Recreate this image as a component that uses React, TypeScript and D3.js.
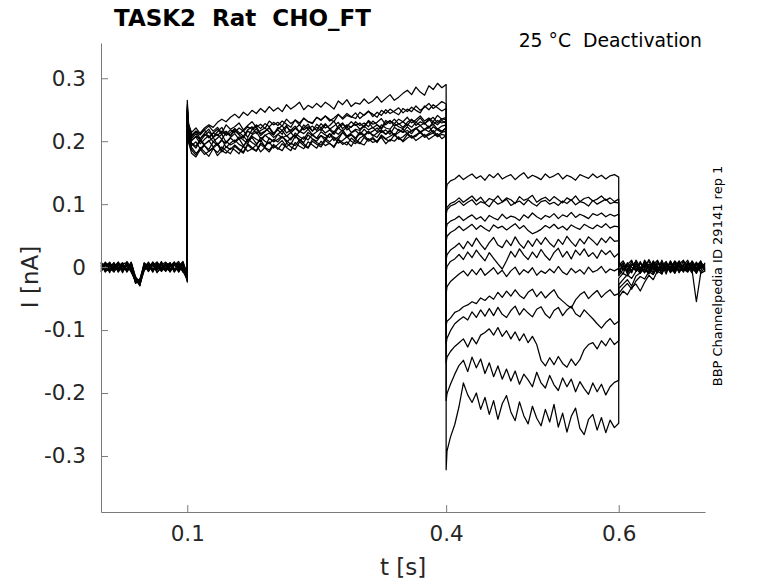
import React, { useEffect, useRef } from 'react';

import * as d3 from 'd3';

const xTicks = [0.1, 0.4, 0.6];
const yTicks = [-0.3, -0.2, -0.1, 0, 0.1, 0.2, 0.3];

// sample times (s) of the four protocol segments
const baseT = d3.range(0, 0.1001, 0.005);
const step1T = [0.1, 0.1015, ...d3.range(0.105, 0.4001, 0.005)];
const step2T = [0.4, 0.401, ...d3.range(0.405, 0.6001, 0.005)];
const tailT = d3.range(0.6, 0.7001, 0.005);

// current per sweep in pA
const baseline = [
  [4, -7, 6, -2, 8, -5, 3, -8, -22, -26, 5, -6, 7, -3, 9, -4, 2, 8, -6, 5, -14],
  [-6, 5, -9, 7, -3, 6, -7, 2, -18, -28, 4, -4, 8, -8, -2, 6, -6, 3, 9, -3, -19],
  [7, -3, 2, -8, 5, -6, 9, -1, -24, -20, -5, 3, -7, 8, -1, -6, 7, -4, 4, -8, -9],
  [-1, 8, -5, 3, -7, 6, -3, 7, -17, -30, 6, -2, 5, -9, 3, 8, -5, 6, -3, 7, -22],
  [-5, 2, 7, -6, 4, -9, 5, -3, -25, -23, -2, 8, -4, 3, -7, 2, 7, -6, 1, 9, -12],
  [6, -8, 1, 5, -4, 3, -6, 8, -15, -27, 3, -7, 6, -1, 7, -5, 0, 8, -7, 2, -17],
  [-3, 6, -6, 0, 8, -5, 2, -5, -21, -22, 7, 1, -6, 5, -3, 4, -8, 3, 6, -5, -7],
  [8, -2, 4, -5, -1, 5, 7, -7, -19, -29, -3, 5, -2, -5, 6, -3, 5, -8, 2, 6, -24],
  [-7, 3, 0, 7, -8, 2, -4, 5, -26, -19, 4, -7, 3, 8, -6, 7, 3, -2, -5, 4, -10],
  [2, -5, 8, -3, 5, -7, 6, -4, -16, -25, 0, 4, -8, 5, 3, -2, -6, 6, 4, -7, -20],
  [5, 4, -3, -7, 2, 7, -8, 3, -20, -28, -6, 6, 2, -4, 7, -7, 5, -3, -1, 8, -13],
  [-8, 7, 3, 4, -6, -1, 2, -6, -23, -24, 2, -4, 8, 1, -5, 3, -3, 5, -8, 3, -16],
  [3, -6, -4, 2, 6, -3, -5, 7, -18, -21, -1, 7, -5, 6, 0, -4, 6, -7, 5, -5, -8]
];

const step1 = [
  [265, 224,
    208, 216, 204, 213, 219, 207, 215, 222, 209, 214, 220, 211, 217, 206, 218, 223, 212, 216, 221, 210,
    219, 225, 213, 218, 224, 215, 221, 227, 216, 222, 217, 226, 220, 214, 224, 229, 218, 223, 227, 219,
    225, 231, 221, 226, 219, 229, 233, 224, 228, 222, 230, 235, 225, 231, 227, 236, 226, 233, 229, 232],
  [248, 212,
    196, 189, 201, 193, 187, 199, 194, 203, 190, 197, 202, 195, 191, 204, 198, 193, 206, 200, 196, 203,
    199, 207, 201, 195, 208, 203, 198, 210, 204, 200, 209, 205, 212, 201, 207, 214, 206, 210, 203, 213,
    208, 215, 210, 206, 216, 211, 218, 209, 214, 219, 212, 217, 221, 213, 219, 215, 223, 218, 214, 222],
  [255, 220,
    204, 212, 200, 209, 215, 206, 211, 203, 214, 208, 217, 210, 205, 216, 212, 220, 209, 215, 222, 213,
    218, 211, 223, 216, 221, 214, 226, 219, 224, 217, 228, 221, 225, 232, 220, 227, 223, 231, 225, 229,
    222, 233, 227, 230, 236, 226, 232, 228, 235, 231, 238, 229, 234, 240, 232, 237, 231, 241, 235, 238],
  [242, 205,
    190, 181, 186, 193, 184, 189, 195, 183, 191, 187, 194, 188, 183, 196, 190, 185, 197, 192, 199, 189,
    195, 201, 191, 197, 193, 202, 196, 190, 203, 198, 194, 204, 199, 206, 197, 201, 207, 200, 196, 205,
    209, 202, 206, 199, 210, 204, 208, 212, 203, 207, 213, 206, 210, 215, 208, 212, 217, 209, 214, 216],
  [250, 226,
    214, 221, 212, 218, 224, 216, 222, 213, 226, 219, 223, 229, 218, 225, 231, 222, 227, 220, 232, 226,
    230, 224, 235, 228, 233, 226, 237, 231, 229, 238, 234, 240, 232, 237, 243, 235, 241, 238, 245, 236,
    242, 248, 239, 246, 241, 250, 244, 248, 253, 245, 251, 247, 256, 249, 254, 260, 252, 257, 263, 259],
  [246, 215,
    201, 207, 196, 203, 209, 199, 205, 211, 198, 206, 212, 203, 208, 200, 210, 215, 204, 209, 213, 206,
    211, 217, 208, 214, 205, 216, 212, 219, 210, 215, 220, 213, 218, 211, 221, 216, 223, 214, 219, 217,
    224, 218, 222, 215, 226, 221, 219, 228, 223, 220, 227, 222, 230, 225, 229, 221, 231, 226, 233, 228],
  [238, 200,
    186, 178, 190, 183, 176, 188, 182, 191, 185, 180, 192, 186, 181, 194, 188, 184, 195, 189, 183, 193,
    187, 196, 190, 185, 198, 192, 188, 199, 194, 189, 200, 193, 197, 190, 202, 195, 199, 192, 203, 197,
    194, 204, 198, 201, 206, 196, 203, 200, 207, 199, 205, 209, 201, 206, 211, 203, 208, 212, 204, 209],
  [252, 222,
    207, 215, 210, 218, 205, 213, 219, 211, 216, 209, 220, 214, 208, 218, 223, 212, 217, 221, 215, 210,
    222, 217, 225, 213, 220, 226, 218, 223, 216, 227, 221, 228, 219, 224, 230, 220, 226, 222, 231, 225,
    229, 223, 232, 226, 221, 233, 228, 235, 227, 231, 225, 234, 230, 237, 228, 233, 238, 229, 236, 234],
  [244, 210,
    197, 192, 203, 195, 200, 206, 194, 201, 197, 205, 199, 207, 202, 196, 208, 203, 199, 210, 204, 200,
    211, 205, 209, 202, 213, 207, 203, 214, 209, 205, 215, 210, 206, 216, 211, 218, 208, 213, 217, 210,
    219, 212, 216, 221, 214, 218, 211, 222, 217, 214, 223, 216, 220, 225, 218, 222, 227, 219, 224, 226],
  [258, 228,
    210, 216, 213, 221, 226, 222, 230, 235, 231, 238, 243, 237, 246, 241, 249, 244, 252, 246, 255, 248,
    253, 247, 258, 251, 256, 262, 250, 257, 253, 260, 254, 262, 257, 251, 264, 258, 266, 255, 261, 259,
    267, 260, 264, 271, 262, 268, 274, 265, 270, 276, 281, 274, 286, 278, 273, 288, 282, 292, 285, 290],
  [240, 207,
    193, 199, 188, 195, 201, 191, 197, 186, 200, 194, 198, 204, 193, 200, 206, 196, 202, 191, 205, 199,
    203, 208, 198, 205, 210, 200, 207, 202, 211, 204, 209, 201, 212, 206, 203, 214, 208, 211, 205, 215,
    210, 216, 208, 213, 218, 211, 216, 209, 219, 214, 217, 212, 221, 215, 219, 224, 213, 220, 216, 221],
  [250, 218,
    201, 208, 204, 211, 206, 213, 209, 216, 211, 218, 214, 221, 216, 223, 219, 226, 220, 228, 223, 230,
    225, 232, 227, 222, 234, 229, 236, 231, 228, 238, 233, 240, 235, 231, 242, 237, 244, 239, 236, 246,
    241, 247, 243, 238, 249, 244, 251, 246, 242, 252, 247, 254, 249, 245, 256, 250, 258, 253, 248, 252],
  [236, 198,
    181, 175, 187, 179, 184, 190, 177, 185, 181, 189, 186, 180, 192, 184, 188, 194, 183, 190, 186, 195,
    189, 185, 197, 191, 187, 199, 193, 189, 200, 195, 191, 201, 196, 192, 203, 198, 194, 205, 199, 196,
    206, 200, 204, 198, 208, 203, 200, 210, 204, 201, 211, 205, 208, 214, 206, 210, 213, 207, 211, 209]
];

const step2 = [
  [118, 131, 137, 140, 146, 139, 144, 148, 141, 145, 138, 147, 142, 149, 140, 144, 147, 139, 145, 150, 141, 146, 143, 139, 148, 142, 145, 149, 140, 146, 143, 138, 147, 144, 141, 148, 142, 146, 140, 145, 147, 143],
  [86, 95, 101, 104, 110, 103, 108, 113, 105, 111, 102, 109, 106, 113, 104, 110, 107, 101, 112, 106, 109, 114, 103, 108, 111, 105, 112, 107, 102, 110, 106, 113, 104, 109, 111, 105, 108, 113, 106, 110, 104, 108],
  [83, 91, 97, 100, 105, 98, 103, 107, 99, 104, 101, 96, 106, 100, 103, 108, 98, 102, 105, 99, 107, 101, 97, 104, 106, 100, 103, 98, 105, 101, 107, 99, 104, 102, 97, 106, 100, 104, 108, 101, 103, 102],
  [60, 68, 73, 76, 81, 74, 79, 83, 76, 80, 73, 82, 78, 75, 84, 77, 81, 79, 74, 83, 78, 86, 80, 76, 82, 79, 85, 77, 83, 80, 87, 79, 84, 81, 77, 85, 82, 86, 80, 84, 81, 84],
  [40, 49, 55, 59, 65, 58, 63, 68, 60, 66, 61, 57, 67, 62, 65, 59, 64, 69, 61, 66, 58, 53, 56, 60, 66, 62, 68, 61, 65, 59, 67, 63, 60, 68, 64, 61, 67, 63, 69, 62, 65, 64],
  [12, 20, 27, 32, 38, 29, 41, 33, 46, 36, 28, 39, 47, 35, 31, 43, 34, 48, 37, 30, 42, 33, 45, 36, 47, 38, 32, 44, 36, 49, 40, 33, 45, 37, 48, 42, 35, 46, 39, 48, 41, 42],
  [-8, 1, 9, 13, 20, 12, 24, 15, 27, 18, 10, 23, 14, 5, -3, 10, 25, 16, 29, 19, 12, 24, 15, 28, 18, 11, 23, 30, 16, 25, 13, 27, 19, 29, 17, 23, 14, 27, 20, 26, 16, 22],
  [-42, -31, -23, -17, -11, -6, -14, -4, -12, -2, -13, -7, -1, -11, -5, -15, -6, 0, -12, -4, -9, -1, -13, -6, -10, -3, -9, 1, -8, -12, -2, -9, -4, -11, 0, -8, -5, 1, -9, -3, -6, -2],
  [-92, -86, -81, -72, -69, -63, -60, -55, -58, -49, -53, -46, -51, -40, -48, -38, -46, -36, -45, -50, -40, -35, -47, -39, -49, -42, -36, -48, -54, -60, -65, -52, -44, -39, -50, -43, -37, -48, -41, -36, -45, -42],
  [-122, -113, -101, -90, -84, -79, -84, -71, -80, -68, -78, -66, -77, -64, -75, -80, -69, -62, -76, -66, -73, -79, -67, -63, -75, -81, -69, -64, -77, -68, -62, -74, -79, -68, -75, -82, -90, -97, -88, -82, -91, -86],
  [-152, -143, -134, -126, -120, -114, -127, -112, -122, -108, -104, -98, -108, -96, -110, -101, -114, -103, -117, -106, -120, -110, -123, -148, -157, -144, -155, -142, -153, -159, -146, -156, -147, -131, -123, -120, -130, -117, -125, -113, -123, -117],
  [-212, -201, -186, -170, -156, -148, -166, -143, -160, -146, -169, -152, -174, -157, -178, -162, -181, -165, -186, -170, -179, -190, -167, -184, -192, -172, -187, -196, -176, -190, -178, -198, -182, -193, -202, -184, -198, -186, -203, -190, -183, -180],
  [-322, -292, -270, -250, -221, -184, -203, -215, -200, -226, -207, -234, -212, -242, -217, -204, -230, -244, -214, -236, -249, -221, -240, -252, -226, -246, -218, -254, -232, -262, -237, -224, -256, -266, -242, -234, -259, -239, -263, -243, -255, -248]
];

const tail = [
  [9, -5, 4, 11, -7, 6, -2, 12, 0, -9, 7, 3, -6, 10, 2, -4, 8, -7, 5, -1, 3],
  [-7, 5, -11, 2, 9, -4, 7, -6, 10, 0, -9, 6, -2, 8, -8, 3, 11, -4, 2, 9, -5],
  [3, 10, -2, -9, 6, -6, 11, 1, -8, 9, -3, 0, 7, -10, 5, 11, -2, 4, -7, 6, 2],
  [-4, -11, 7, 0, -6, 9, -9, 3, 6, -7, 11, -5, 2, -4, 9, -2, -6, 7, -3, 10, -7],
  [0, 7, -8, 5, -2, -10, 4, 9, -4, 2, -11, 7, -5, 9, -7, 5, 0, -9, 8, -2, 4],
  [7, -2, 2, -8, 11, 0, -6, -7, 9, -4, 4, -11, 9, -2, 3, -8, 7, 2, -5, 8, -3],
  [-10, 2, -5, 9, -4, 7, 1, -9, 4, 11, -2, 5, -8, 0, 10, -6, 3, -2, 7, -9, 0],
  [-14, -4, 5, -6, 2, -8, 9, 0, -11, 4, 7, -4, 10, -6, -2, 9, -7, 5, -10, 3, -2],
  [-18, -10, -14, -4, 5, -7, 3, -2, 7, -9, 2, 9, -4, 5, -9, 2, -4, 10, 0, -6, 7],
  [-28, -20, -12, -18, -7, 0, -9, 5, -4, 8, -6, 0, 5, -7, 7, -3, 5, -2, -9, 3, -4],
  [-34, -27, -20, -30, -14, -9, -3, -11, 2, -5, 8, -7, 0, 9, -4, -6, 2, 8, -3, 0, 5],
  [-42, -33, -26, -35, -22, -15, -19, -7, -12, 0, -6, 3, -9, 2, 6, -3, -8, 3, -5, -2, 2],
  [-48, -38, -44, -32, -27, -38, -24, -13, -20, -6, -11, 4, -3, -9, 3, -6, 0, -5, -55, -10, -6]
];

const segment = (times, values) =>
  values.slice(0, times.length).map((v, i) => [times[i], v / 1000]);

const App = () => {
  const container = useRef(null);

  const width = 778;
  const height = 583;
  const margins = { l: 101, t: 43, r: 73, b: 71 };
  const font = '"DejaVu Sans", sans-serif';

  useEffect(() => {
    createChart();
  }, []);

  const createChart = () => {
    const svg = d3
      .select(container.current)
      .selectAll('svg')
      .data([0])
      .join('svg')
      .attr('width', width)
      .attr('height', height)
      .style('position', 'absolute')
      .style('left', 0)
      .style('top', 0)
      .style('background', '#fff');

    const xScale = d3.scaleLinear().domain([0, 0.7]).range([margins.l, width - margins.r]);
    const yScale = d3.scaleLinear().domain([-0.389, 0.356]).range([height - margins.b, margins.t]);

    const sweeps = baseline.map((b, i) => [
      ...segment(baseT, b),
      ...segment(step1T, step1[i]),
      ...segment(step2T, step2[i]),
      ...segment(tailT, tail[i])
    ]);

    const line = d3
      .line()
      .x(d => xScale(d[0]))
      .y(d => yScale(d[1]));

    svg
      .selectAll('.sweep')
      .data(sweeps)
      .join('path')
      .attr('class', 'sweep')
      .attr('d', line)
      .attr('fill', 'none')
      .attr('stroke', '#000')
      .attr('stroke-width', 1.25)
      .attr('stroke-linejoin', 'round');

    const xAxis = d3
      .axisBottom(xScale)
      .tickValues(xTicks)
      .tickSizeInner(-7)
      .tickSizeOuter(0)
      .tickPadding(14)
      .tickFormat(d => String(d));

    const yAxis = d3
      .axisLeft(yScale)
      .tickValues(yTicks)
      .tickSizeInner(-7)
      .tickSizeOuter(0)
      .tickPadding(15)
      .tickFormat(d => (d === 0 ? '0' : d.toFixed(1)));

    const xg = svg
      .selectAll('.xaxisg')
      .data([0])
      .join('g')
      .attr('class', 'xaxisg')
      .attr('transform', `translate(0, ${height - margins.b})`)
      .call(xAxis);

    const yg = svg
      .selectAll('.yaxisg')
      .data([0])
      .join('g')
      .attr('class', 'yaxisg')
      .attr('transform', `translate(${margins.l}, 0)`)
      .call(yAxis);

    [xg, yg].forEach(g => {
      g.selectAll('path, line').attr('stroke', '#7a7a7a').attr('stroke-width', 1);
      g.selectAll('text')
        .attr('fill', '#262626')
        .style('font-family', font)
        .style('font-size', '21.5px');
    });

    const labels = [
      { text: 't [s]', x: 403, y: 575, size: 23, anchor: 'middle', rotate: 0, weight: 'normal', color: '#262626' },
      { text: 'I [nA]', x: 38, y: 277, size: 23, anchor: 'middle', rotate: -90, weight: 'normal', color: '#262626' },
      { text: 'TASK2  Rat  CHO_FT', x: 114, y: 26, size: 23, anchor: 'start', rotate: 0, weight: 'bold', color: '#000' },
      { text: '25 °C  Deactivation', x: 702, y: 47, size: 18.8, anchor: 'end', rotate: 0, weight: 'normal', color: '#000' },
      { text: 'BBP Channelpedia ID 29141 rep 1', x: 722, y: 276, size: 13, anchor: 'middle', rotate: -90, weight: 'normal', color: '#000' }
    ];

    svg
      .selectAll('.label')
      .data(labels)
      .join('text')
      .attr('class', 'label')
      .attr('transform', d => `translate(${d.x}, ${d.y}) rotate(${d.rotate})`)
      .attr('text-anchor', d => d.anchor)
      .attr('fill', d => d.color)
      .style('font-family', font)
      .style('font-size', d => `${d.size}px`)
      .style('font-weight', d => d.weight)
      .style('white-space', 'pre')
      .text(d => d.text);
  };

  return <div className="trace-container" ref={container}></div>;
};

export default App;
